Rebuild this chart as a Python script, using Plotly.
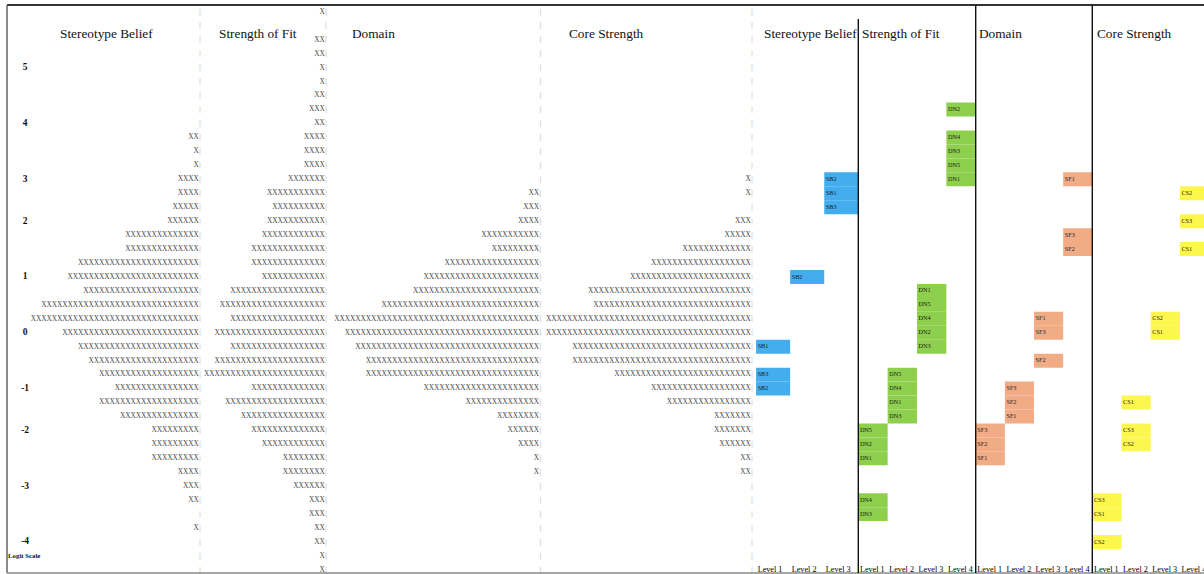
import plotly.graph_objects as go
from plotly.subplots import make_subplots

# ---------------------------------------------------------------
# Data: person distribution (one "X" per person group) on 41 map rows,
# row 0 = top of the logit scale, row 40 = bottom.
# ---------------------------------------------------------------
n_rows = 41
tick_rows = [4, 8, 12, 15, 19, 23, 27, 30, 34, 38]
tick_labels = ["5", "4", "3", "2", "1", "0", "-1", "-2", "-3", "-4"]
scale_label_row = 39

stereotype_counts = [0] * 9 + [2, 1, 1, 4, 4, 5, 6, 14, 14, 23, 25, 22, 30, 32, 26, 23,
                               21, 19, 16, 19, 15, 9, 9, 9, 4, 3, 2, 0, 1, 0, 0, 0]
fit_counts = [1, 0, 2, 2, 1, 1, 2, 3, 2, 4, 4, 4, 7, 11, 10, 11, 12, 14, 14, 12, 18,
              20, 18, 21, 18, 21, 23, 14, 19, 16, 14, 12, 8, 8, 6, 3, 3, 2, 2, 1, 1]
domain_counts = [0] * 13 + [2, 3, 4, 11, 9, 18, 22, 24, 30, 39, 37, 35, 33, 33, 22, 14,
                            8, 6, 4, 1, 1] + [0] * 7
core_counts = [0] * 12 + [1, 1, 0, 3, 5, 13, 19, 23, 31, 30, 39, 39, 34, 34, 26, 19, 16,
                          7, 7, 6, 2, 2] + [0] * 7

dimension_titles = ["Stereotype Belief", "Strength of Fit", "Domain", "Core Strength"]

# Item thresholds: label, level, map row
sb_items = ["SB2", "SB1", "SB3", "SB2", "SB1", "SB3", "SB2"]
sb_levels = [3, 3, 3, 2, 1, 1, 1]
sb_rows = [12, 13, 14, 19, 24, 26, 27]

dn_items = ["DN2", "DN4", "DN3", "DN5", "DN1", "DN1", "DN5", "DN4", "DN2", "DN3",
            "DN5", "DN4", "DN1", "DN3", "DN5", "DN2", "DN1", "DN4", "DN3"]
dn_levels = [4, 4, 4, 4, 4, 3, 3, 3, 3, 3, 2, 2, 2, 2, 1, 1, 1, 1, 1]
dn_rows = [7, 9, 10, 11, 12, 20, 21, 22, 23, 24, 26, 27, 28, 29, 30, 31, 32, 35, 36]

sf_items = ["SF1", "SF3", "SF2", "SF1", "SF3", "SF2", "SF3", "SF2", "SF1", "SF3", "SF2", "SF1"]
sf_levels = [4, 4, 4, 3, 3, 3, 2, 2, 2, 1, 1, 1]
sf_rows = [12, 16, 17, 22, 23, 25, 27, 28, 29, 30, 31, 32]

cs_items = ["CS2", "CS3", "CS1", "CS2", "CS1", "CS1", "CS3", "CS2", "CS3", "CS1", "CS2"]
cs_levels = [4, 4, 4, 3, 3, 2, 2, 2, 1, 1, 1]
cs_rows = [13, 15, 17, 22, 23, 28, 30, 31, 35, 36, 38]

panel_levels = [3, 4, 4, 4]

# ---------------------------------------------------------------
# Layout geometry
# ---------------------------------------------------------------
W, H = 1204, 574
ML, MR, MT, MB = 7, 0, 5, 1
plot_w = W - ML - MR
col_px = [193.3, 126, 214.4, 211.6, 106, 117.4, 116.6, 111.7]
pitch = 5.25                      # px per "X" character cell
row_top, row_bottom = -0.495, 40.22

fig = make_subplots(rows=1, cols=8, shared_yaxes=True,
                    horizontal_spacing=0, column_widths=col_px)

x_font = dict(family="Liberation Serif", size=7.4, color="#484848")
bar_font = dict(family="Liberation Mono", size=6.5, color="#bdbdbd")

# Person distributions drawn as rows of X, right-aligned on the divider
for c, counts in enumerate([stereotype_counts, fit_counts, domain_counts, core_counts], start=1):
    xs, ys = [], []
    for r, n in enumerate(counts):
        for j in range(n):
            xs.append(-(j + 0.5) - 0.3)
            ys.append(r)
    fig.add_trace(go.Scatter(x=xs, y=ys, mode="text", text=["X"] * len(xs),
                             textfont=x_font, cliponaxis=False, hoverinfo="skip"),
                  row=1, col=c)
    fig.add_trace(go.Scatter(x=[-0.05] * n_rows, y=list(range(n_rows)), mode="text",
                             text=["|"] * n_rows, textfont=bar_font,
                             cliponaxis=False, hoverinfo="skip"),
                  row=1, col=c)
    fig.update_xaxes(range=[-col_px[c - 1] / pitch, 0], row=1, col=c)

# Logit scale labels inside the first column
w1 = col_px[0] / pitch
fig.add_trace(go.Scatter(x=[-w1 + 3.45] * len(tick_rows), y=tick_rows, mode="text",
                         text=tick_labels, textposition="middle center",
                         textfont=dict(family="Liberation Serif", size=9.5,
                                       color="#111", weight="bold"),
                         cliponaxis=False, hoverinfo="skip"), row=1, col=1)
fig.add_trace(go.Scatter(x=[-w1 + 0.2], y=[scale_label_row], mode="text",
                         text=["Logit Scale"], textposition="middle right",
                         textfont=dict(family="Liberation Serif", size=6.8,
                                       color="#111", weight="bold"),
                         cliponaxis=False, hoverinfo="skip"), row=1, col=1)

# Item threshold panels
panels = [
    (sb_items, sb_levels, sb_rows, "#43adee"),
    (dn_items, dn_levels, dn_rows, "#8fcf4e"),
    (sf_items, sf_levels, sf_rows, "#f1ac86"),
    (cs_items, cs_levels, cs_rows, "#fdf64c"),
]
panel_ranges = [[0.39, 3.5], [0.5, 4.5], [0.5, 4.5], [0.5, 0.5 + 111.7 / 29.2]]

for p, (items, levels, rows, color) in enumerate(panels):
    col = 5 + p
    rng = panel_ranges[p]
    cell_px = col_px[col - 1] / (rng[1] - rng[0])
    pad = 1.6 / cell_px
    fig.add_trace(go.Bar(x=levels, y=[1] * len(rows), base=[r - 0.5 for r in rows],
                         width=1, marker=dict(color=color, line=dict(width=0)),
                         hoverinfo="skip"), row=1, col=col)
    fig.add_trace(go.Scatter(x=[l - 0.5 + pad for l in levels], y=rows, mode="text",
                             text=items, textposition="middle right",
                             textfont=dict(family="Liberation Serif", size=6.2, color="#1a1a1a"),
                             cliponaxis=False, hoverinfo="skip"), row=1, col=col)
    lv = list(range(1, panel_levels[p] + 1))
    fig.add_trace(go.Scatter(x=[l - 0.5 + pad for l in lv], y=[40] * len(lv), mode="text",
                             text=[f"Level {l}" for l in lv], textposition="middle right",
                             textfont=dict(family="Liberation Serif", size=8.2, color="#000"),
                             cliponaxis=False, hoverinfo="skip"), row=1, col=col)
    fig.update_xaxes(range=rng, row=1, col=col)

fig.update_xaxes(visible=False, fixedrange=True)
fig.update_yaxes(visible=False, fixedrange=True, range=[row_bottom, row_top])

# Column titles
title_px = [57.7, 216.7, 350, 566.7, 761.7, 860, 976.7, 1095]
title_text = dimension_titles + dimension_titles
annotations = []
for tx, tt in zip(title_px, title_text):
    annotations.append(dict(x=(tx - ML) / plot_w, xref="paper", xanchor="left",
                            y=1.55, yref="y", yanchor="middle", text=tt, showarrow=False,
                            font=dict(family="Liberation Serif", size=13.3, color="#111")))

# Frame and panel dividers
shapes = [
    dict(type="line", xref="paper", yref="paper", x0=0, x1=1.02, y0=1, y1=1,
         line=dict(color="#333", width=2)),
    dict(type="line", xref="paper", yref="paper", x0=0, x1=0, y0=0, y1=1,
         line=dict(color="#666", width=1.5)),
    dict(type="line", xref="paper", yref="paper", x0=0, x1=1.02, y0=0, y1=0,
         line=dict(color="#888", width=1.5)),
]
divider_top = [(H - MB - 18) / (H - MT - MB) - MB / (H - MT - MB), 1, 1]
for i, xname in enumerate(["x6", "x7", "x8"]):
    shapes.append(dict(type="line", xref=f"{xname} domain", yref="paper",
                       x0=0, x1=0, y0=0, y1=divider_top[i],
                       line=dict(color="#111", width=1.4)))

fig.update_layout(width=W, height=H, margin=dict(l=ML, r=MR, t=MT, b=MB),
                  paper_bgcolor="white", plot_bgcolor="white",
                  showlegend=False, barmode="overlay",
                  annotations=annotations, shapes=shapes)

fig.write_html("out.html")
